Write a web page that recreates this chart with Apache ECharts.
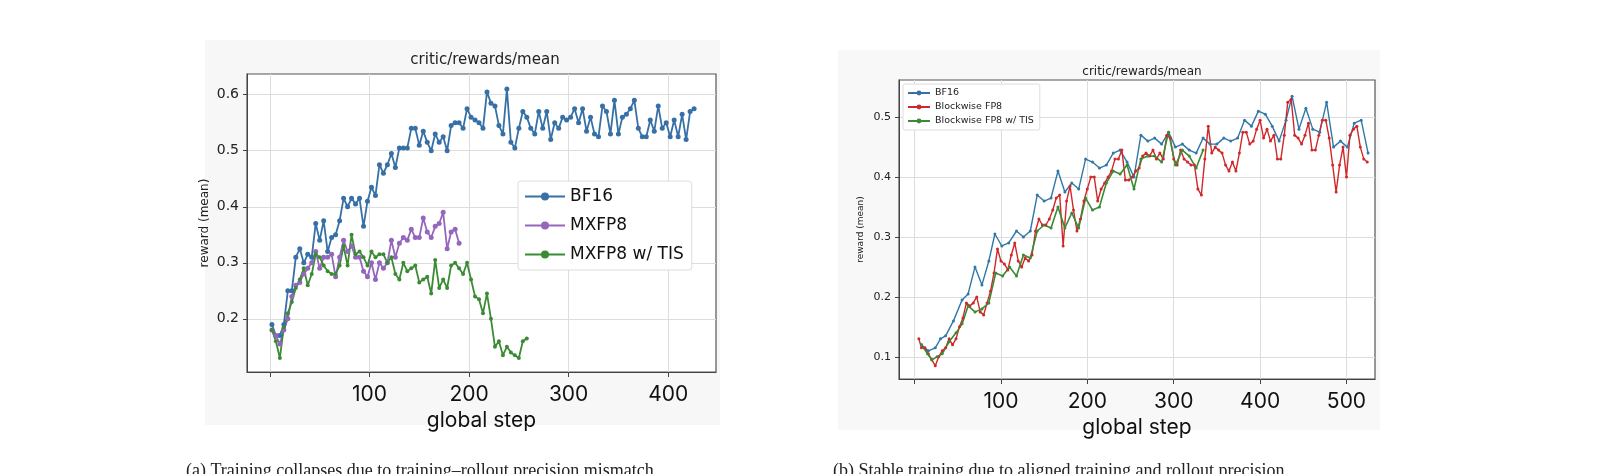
<!DOCTYPE html>
<html><head><meta charset="utf-8">
<script src="https://cdn.jsdelivr.net/npm/echarts@6/dist/echarts.min.js"></script>
<style>html,body{margin:0;padding:0;background:#fff}#c{width:1600px;height:474px}</style>
</head><body><div id="c"></div>
<script>
const L_xTicks=[100,200,300,400];
const L_yTicks=[0.2,0.3,0.4,0.5,0.6];
const R_xTicks=[100,200,300,400,500];
const R_yTicks=[0.1,0.2,0.3,0.4,0.5];
const L_bf16=[[2,0.19],[6,0.17],[10,0.17],[14,0.19],[18,0.25],[22,0.25],[26,0.31],[30,0.325],[34,0.30],[38,0.315],[42,0.31],[46,0.37],[50,0.34],[54,0.375],[58,0.32],[62,0.345],[66,0.35],[70,0.375],[74,0.415],[78,0.40],[82,0.415],[86,0.405],[90,0.415],[94,0.365],[98,0.41],[102,0.435],[106,0.42],[110,0.475],[114,0.46],[118,0.475],[122,0.495],[126,0.47],[130,0.505],[134,0.505],[138,0.505],[142,0.54],[146,0.54],[150,0.51],[154,0.535],[158,0.515],[162,0.50],[166,0.53],[170,0.515],[174,0.525],[178,0.50],[182,0.545],[186,0.55],[190,0.55],[194,0.54],[198,0.575],[202,0.56],[206,0.555],[210,0.55],[214,0.54],[218,0.605],[222,0.585],[226,0.58],[230,0.545],[234,0.53],[238,0.61],[242,0.515],[246,0.505],[250,0.54],[254,0.57],[258,0.56],[262,0.54],[266,0.53],[270,0.57],[274,0.54],[278,0.57],[282,0.52],[286,0.55],[290,0.54],[294,0.56],[298,0.555],[302,0.56],[306,0.575],[310,0.55],[314,0.575],[318,0.535],[322,0.56],[326,0.53],[330,0.525],[334,0.58],[338,0.57],[342,0.53],[346,0.59],[350,0.53],[354,0.56],[358,0.565],[362,0.575],[366,0.59],[370,0.54],[374,0.525],[378,0.525],[382,0.555],[386,0.535],[390,0.58],[394,0.54],[398,0.55],[402,0.525],[406,0.555],[410,0.525],[414,0.565],[418,0.52],[422,0.57],[426,0.575]];
const L_mxfp8=[[2,0.18],[6,0.17],[10,0.155],[14,0.18],[18,0.20],[22,0.24],[26,0.26],[30,0.265],[34,0.28],[38,0.29],[42,0.30],[46,0.32],[50,0.29],[54,0.31],[58,0.31],[62,0.315],[66,0.275],[70,0.31],[74,0.34],[78,0.32],[82,0.33],[86,0.31],[90,0.31],[94,0.285],[98,0.275],[102,0.30],[106,0.27],[110,0.30],[114,0.29],[118,0.30],[122,0.34],[126,0.31],[130,0.335],[134,0.345],[138,0.34],[142,0.36],[146,0.345],[150,0.345],[154,0.38],[158,0.355],[162,0.345],[166,0.365],[170,0.37],[174,0.39],[178,0.325],[182,0.355],[186,0.36],[190,0.335]];
const L_tis=[[2,0.18],[6,0.16],[10,0.13],[14,0.185],[18,0.21],[22,0.23],[26,0.255],[30,0.27],[34,0.29],[38,0.26],[42,0.28],[46,0.315],[50,0.31],[54,0.295],[58,0.285],[62,0.28],[66,0.28],[70,0.295],[74,0.33],[78,0.295],[82,0.35],[86,0.315],[90,0.32],[94,0.31],[98,0.295],[102,0.32],[106,0.31],[110,0.315],[114,0.315],[118,0.30],[122,0.31],[126,0.28],[130,0.27],[134,0.30],[138,0.285],[142,0.29],[146,0.295],[150,0.265],[154,0.27],[158,0.275],[162,0.245],[166,0.305],[170,0.255],[174,0.27],[178,0.255],[182,0.295],[186,0.30],[190,0.29],[194,0.28],[198,0.30],[202,0.27],[206,0.24],[210,0.235],[214,0.21],[218,0.245],[222,0.20],[226,0.15],[230,0.16],[234,0.135],[238,0.15],[242,0.14],[246,0.135],[250,0.13],[254,0.16],[258,0.165]];
const R_bf16=[[8,0.12],[16,0.11],[24,0.115],[30,0.13],[36,0.135],[45,0.16],[55,0.195],[62,0.205],[70,0.25],[78,0.22],[86,0.26],[93,0.305],[101,0.285],[109,0.29],[118,0.31],[126,0.30],[134,0.31],[142,0.37],[150,0.36],[158,0.365],[166,0.41],[174,0.375],[182,0.39],[190,0.38],[198,0.43],[206,0.425],[214,0.415],[222,0.42],[230,0.44],[238,0.445],[246,0.425],[254,0.40],[262,0.47],[270,0.46],[278,0.465],[286,0.455],[294,0.475],[302,0.45],[310,0.455],[318,0.445],[326,0.44],[334,0.465],[342,0.455],[350,0.455],[358,0.465],[366,0.46],[374,0.465],[382,0.495],[390,0.485],[398,0.51],[406,0.505],[414,0.485],[422,0.46],[430,0.495],[437,0.535],[445,0.48],[453,0.515],[461,0.48],[469,0.475],[477,0.525],[485,0.45],[493,0.46],[501,0.45],[509,0.49],[517,0.495],[525,0.44]];
const R_fp8=[[5,0.13],[8,0.115],[12,0.115],[16,0.105],[20,0.095],[24,0.085],[28,0.10],[32,0.11],[36,0.115],[40,0.13],[44,0.12],[48,0.13],[52,0.15],[56,0.165],[60,0.19],[64,0.185],[68,0.19],[72,0.20],[76,0.175],[80,0.17],[84,0.19],[88,0.21],[92,0.24],[96,0.28],[100,0.26],[104,0.255],[108,0.245],[112,0.27],[116,0.29],[120,0.26],[124,0.25],[128,0.265],[132,0.26],[136,0.27],[140,0.31],[144,0.33],[148,0.32],[152,0.32],[156,0.33],[160,0.345],[164,0.365],[168,0.37],[172,0.285],[176,0.36],[180,0.385],[184,0.345],[188,0.31],[192,0.33],[196,0.36],[200,0.38],[204,0.40],[208,0.40],[212,0.36],[216,0.38],[220,0.39],[224,0.40],[228,0.41],[232,0.43],[236,0.43],[240,0.445],[244,0.395],[248,0.395],[252,0.40],[256,0.41],[260,0.415],[264,0.435],[268,0.44],[272,0.435],[276,0.445],[280,0.43],[284,0.44],[288,0.43],[292,0.47],[296,0.465],[300,0.43],[304,0.42],[308,0.445],[312,0.43],[316,0.425],[320,0.42],[324,0.42],[328,0.38],[332,0.37],[336,0.43],[340,0.485],[344,0.44],[348,0.45],[352,0.445],[356,0.44],[360,0.42],[364,0.41],[368,0.425],[372,0.41],[376,0.44],[380,0.475],[384,0.475],[388,0.455],[392,0.46],[396,0.48],[400,0.495],[404,0.465],[408,0.48],[412,0.46],[416,0.47],[420,0.43],[424,0.43],[428,0.47],[432,0.525],[436,0.53],[440,0.47],[444,0.465],[448,0.455],[452,0.47],[456,0.49],[460,0.445],[464,0.445],[468,0.47],[472,0.495],[476,0.495],[480,0.465],[484,0.42],[488,0.375],[492,0.42],[496,0.45],[500,0.40],[504,0.47],[508,0.48],[512,0.485],[516,0.45],[520,0.43],[524,0.425]];
const R_tis=[[8,0.12],[15,0.105],[20,0.095],[26,0.10],[32,0.105],[40,0.125],[48,0.14],[55,0.155],[62,0.185],[70,0.175],[78,0.18],[86,0.19],[94,0.24],[102,0.235],[110,0.25],[118,0.235],[126,0.27],[134,0.265],[142,0.31],[150,0.32],[158,0.315],[166,0.35],[174,0.315],[182,0.34],[190,0.315],[198,0.365],[206,0.345],[214,0.35],[222,0.39],[230,0.41],[238,0.405],[246,0.42],[254,0.38],[262,0.43],[270,0.435],[278,0.435],[286,0.425],[294,0.475],[302,0.42],[310,0.445],[318,0.435],[326,0.415],[334,0.445]];

const C={blue:'#3670a6',purple:'#9467bd',green:'#3b8b34',red:'#d0282a',rblue:'#2f78a8'};
function xAx(idx,min,max,ticks){return {gridIndex:idx,type:'value',min:min,max:max,
 name:'global step',nameLocation:'middle',nameGap:38,nameTextStyle:{fontSize:21,color:'#111',fontFamily:'Inter'},
 axisLine:{onZero:false,lineStyle:{color:'#444'}},axisTick:{customValues:[0].concat(ticks),length:5,lineStyle:{color:'#444'}},
 axisLabel:{customValues:ticks,fontSize:21,color:'#111',fontFamily:'Inter',margin:12},
 splitLine:{show:true,lineStyle:{color:'#ddd'}}};}
function yAx(idx,min,max,ticks,fs,gap){return {gridIndex:idx,type:'value',min:min,max:max,
 name:'reward (mean)',nameLocation:'middle',nameGap:gap,nameTextStyle:{fontSize:fs-2,color:'#222',fontFamily:'DejaVu Sans'},
 axisLine:{show:true,onZero:false,lineStyle:{color:'#444'}},axisTick:{show:true,customValues:ticks,length:4,lineStyle:{color:'#444'}},
 axisLabel:{customValues:ticks,fontSize:fs,color:'#222',fontFamily:'DejaVu Sans',formatter:v=>v.toFixed(1)},
 splitLine:{show:true,lineStyle:{color:'#ddd'}}};}
function ser(name,data,color,xi,sym,ss,lw){return {name:name,type:'line',data:data,xAxisIndex:xi,yAxisIndex:xi,
 symbol:sym,symbolSize:ss,showSymbol:true,lineStyle:{color:color,width:lw},itemStyle:{color:color},animation:false};}
const chart=echarts.init(document.getElementById('c'));
chart.setOption({
 animation:false,
 graphic:[
  {type:'rect',shape:{x:205,y:40,width:515,height:385},style:{fill:'#f7f7f7'},z:-10},
  {type:'rect',shape:{x:838,y:50,width:542,height:380},style:{fill:'#f8f8f8'},z:-10},
  {type:'rect',shape:{x:247,y:74,width:469,height:298},style:{fill:'#fff',stroke:'#555',lineWidth:1.2},z:-5},
  {type:'rect',shape:{x:899,y:80,width:476,height:299},style:{fill:'#fff',stroke:'#555',lineWidth:1.2},z:-5},
  {type:'text',left:186,top:462,style:{text:'(a) Training collapses due to training–rollout precision mismatch',font:'18px "Liberation Serif"',fill:'#222'}},
  {type:'text',left:833,top:462,style:{text:'(b) Stable training due to aligned training and rollout precision',font:'18px "Liberation Serif"',fill:'#222'}}
 ],
 title:[
  {text:'critic/rewards/mean',left:480,top:48,textAlign:'center',textStyle:{fontSize:15,fontWeight:'normal',color:'#222',fontFamily:'DejaVu Sans'}},
  {text:'critic/rewards/mean',left:1137,top:61,textAlign:'center',textStyle:{fontSize:12,fontWeight:'normal',color:'#222',fontFamily:'DejaVu Sans'}}
 ],
 legend:[
  {data:['BF16','MXFP8','MXFP8 w/ TIS'],orient:'vertical',left:518,top:181,itemWidth:40,itemHeight:10,itemGap:12,
   backgroundColor:'#fff',borderColor:'#ddd',borderWidth:1,borderRadius:3,padding:[7,8,7,6],
   textStyle:{fontSize:17,color:'#111',fontFamily:'DejaVu Sans'}},
  {data:['BF16','Blockwise FP8','Blockwise FP8 w/ TIS'],orient:'vertical',left:903,top:84,itemWidth:22,itemHeight:6,itemGap:4,
   backgroundColor:'#fff',borderColor:'#ddd',borderWidth:1,borderRadius:2,padding:[4,6,4,4],
   textStyle:{fontSize:9.5,color:'#222',fontFamily:'DejaVu Sans'}}
 ],
 grid:[{left:247,top:74,width:469,height:298},{left:899,top:80,width:476,height:299}],
 xAxis:[xAx(0,-23,448,L_xTicks),xAx(1,-18,533,R_xTicks)],
 yAxis:[yAx(0,0.105,0.637,L_yTicks,14,36),yAx(1,0.063,0.562,R_yTicks,11,34)],
 series:[
  ser('BF16',L_bf16,C.blue,0,'circle',5,1.8),
  ser('MXFP8',L_mxfp8,C.purple,0,'circle',5,1.8),
  ser('MXFP8 w/ TIS',L_tis,C.green,0,'circle',4,1.8),
  ser('BF16',R_bf16,C.rblue,1,'circle',3,1.4),
  ser('Blockwise FP8',R_fp8,C.red,1,'circle',3,1.4),
  ser('Blockwise FP8 w/ TIS',R_tis,C.green,1,'circle',3,1.6)
 ]
});
</script></body></html>
